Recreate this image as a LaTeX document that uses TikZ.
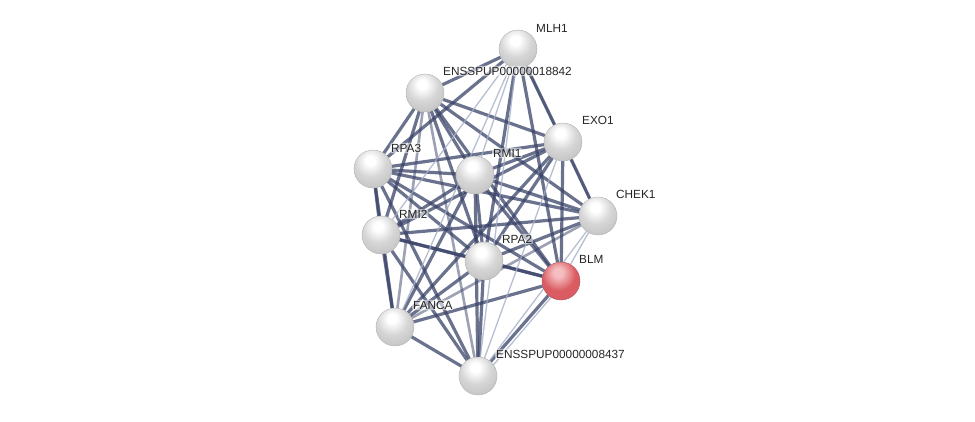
\documentclass[tikz,border=0pt]{standalone}
\usepackage{fontspec}
\setmainfont{Liberation Sans}
\definecolor{rbody}{RGB}{218,92,98}
\definecolor{rhigh}{RGB}{245,190,192}
\definecolor{rdark}{RGB}{150,45,50}
\pgfdeclareradialshading{wsphere}{\pgfpoint{-4bp}{12bp}}{%
  color(0bp)=(white); color(6bp)=(white); color(20bp)=(black!16);
  color(36bp)=(black!24); color(48bp)=(black!38); color(58bp)=(black!55); color(100bp)=(black!55)}
\pgfdeclareradialshading{rsphere}{\pgfpoint{-4bp}{12bp}}{%
  color(0bp)=(rhigh); color(6bp)=(rhigh); color(22bp)=(rbody);
  color(40bp)=(rbody); color(50bp)=(rdark); color(60bp)=(rdark); color(100bp)=(rdark)}
\begin{document}
\begin{tikzpicture}[x=1pt,y=-1pt,
  strong/.style={draw=edgec,line width=3.2pt,opacity=0.75},
  medium/.style={draw=edgec,line width=2.6pt,opacity=0.5},
  light/.style={draw=lightc,line width=1.3pt,opacity=0.8},
  prot/.style={circle,minimum size=38pt,inner sep=0pt},
  lab/.style={anchor=west,inner sep=1pt,fill=white,fill opacity=0.55,text opacity=1,
    rounded corners=2pt,font=\fontsize{11.8}{14}\selectfont,text=black!85}]
\definecolor{edgec}{RGB}{58,68,105}
\definecolor{lightc}{RGB}{165,175,200}
\useasboundingbox (0,0) rectangle (975,421);
\fill[white] (0,0) rectangle (975,421);
% nodes (positions)
\node[prot] (M) at (518,49) {};
\node[prot] (E1) at (425,93) {};
\node[prot] (X) at (563,142) {};
\node[prot] (R3) at (373,169) {};
\node[prot] (M1) at (475,175) {};
\node[prot] (C) at (598,216) {};
\node[prot] (M2) at (381,235) {};
\node[prot] (R2) at (484,261) {};
\node[prot] (B) at (561,281) {};
\node[prot] (F) at (395,327) {};
\node[prot] (E2) at (478,376) {};
% edges
\foreach \a/\b in {M/E1,M/R3,M/X,M/R2,M/B,E1/R3,E1/M1,E1/X,E1/C,E1/M2,E1/R2,E1/B,
  R3/M1,R3/X,R3/C,R3/M2,R3/R2,R3/B,R3/F,R3/E2,M1/X,M1/C,M1/M2,M1/R2,M1/B,M1/F,M1/E2,
  X/C,X/M2,X/R2,X/B,X/F,C/M2,C/R2,M2/R2,M2/B,M2/F,M2/E2,R2/B,R2/F,R2/E2,B/F,B/E2,F/E2}
  \draw[strong] (\a) -- (\b);
\foreach \a/\b in {M/C,E1/F,E1/E2,C/F}
  \draw[medium] (\a) -- (\b);
\foreach \a/\b in {M/M1,M/M2,M/F,M/E2,X/E2,C/B,C/E2}
  \draw[light] (\a) -- (\b);
\draw[light] ([xshift=4pt]B.center) -- ([xshift=6pt]E2.center);
% spheres
\foreach \n in {M,E1,X,R3,M1,C,M2,R2,F,E2}{
  \shade[shading=wsphere] (\n) circle (19pt);
  \draw[black!30,line width=0.4pt] (\n) circle (19pt);
}
\shade[shading=rsphere] (B) circle (19pt);
\draw[rdark!80,line width=0.4pt] (B) circle (19pt);
% labels
\node[lab] (lM) at (535,28) {MLH1};
\node[lab] (lE1) at (442,71) {ENSSPUP00000018842};
\node[lab] (lX) at (581,120) {EXO1};
\node[lab] (lR3) at (390,148) {RPA3};
\node[lab] (lM1) at (492,153) {RMI1};
\node[lab] (lC) at (615,194) {CHEK1};
\node[lab] (lM2) at (398,214) {RMI2};
\node[lab] (lR2) at (501,239) {RPA2};
\node[lab] (lB) at (578,259) {BLM};
\node[lab] (lF) at (412,305) {FANCA};
\node[lab] (lE2) at (495,354) {ENSSPUP00000008437};
\end{tikzpicture}
\end{document}
